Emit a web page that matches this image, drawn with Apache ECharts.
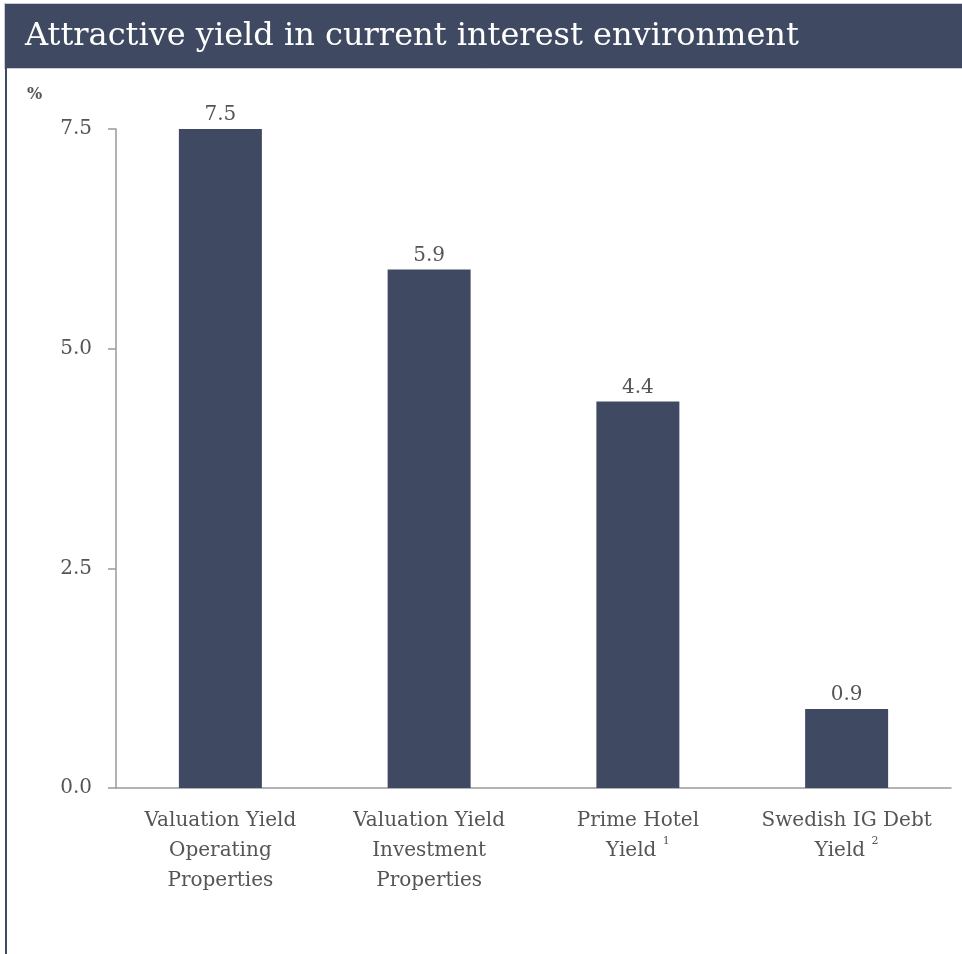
<!DOCTYPE html>
<html>
<head>
<meta charset="utf-8">
<script src="https://cdn.jsdelivr.net/npm/echarts@6/dist/echarts.min.js"></script>
<style>
  html, body { margin: 0; padding: 0; background: #fff; }
  #chart { width: 962px; height: 954px; }
</style>
</head>
<body>
<div id="chart"></div>
<script>
// Yield comparison data
const categories = [
  'Valuation Yield\nOperating\nProperties',
  'Valuation Yield\nInvestment\nProperties',
  'Prime Hotel\nYield {sup|1}',
  'Swedish IG Debt\nYield {sup|2}'
];
const yieldValues = [7.5, 5.9, 4.4, 0.9];
const yTicks = [0, 2.5, 5.0, 7.5];

const NAVY = '#3f4a62';
const TEXT = '#555555';
const AXIS = '#9a9a9a';
const FONT = 'Georgia, "DejaVu Serif", "Liberation Serif", serif';

const chart = echarts.init(document.getElementById('chart'), null, { renderer: 'canvas' });

chart.setOption({
  animation: false,
  backgroundColor: '#ffffff',
  graphic: [
    // header band
    { type: 'rect', left: 4, top: 3, shape: { width: 958, height: 65 },
      style: { fill: NAVY, stroke: '#c8cbd2', lineWidth: 1 }, z: 1 },
    // left frame line
    { type: 'rect', left: 5, top: 68, shape: { width: 2, height: 886 },
      style: { fill: NAVY }, z: 1 },
    // header text
    { type: 'text', left: 25, top: 21,
      style: { text: 'Attractive yield in current interest environment',
               fill: '#ffffff', font: '32px ' + FONT }, z: 2 },
    // unit label
    { type: 'text', left: 27, top: 87,
      style: { text: '%', fill: TEXT, font: 'bold 16px ' + FONT }, z: 2 }
  ],
  grid: { left: 116, right: 11, top: 129, bottom: 166, containLabel: false },
  xAxis: {
    type: 'category',
    data: categories,
    axisLine: { show: true, lineStyle: { color: AXIS, width: 1.5 } },
    axisTick: { show: false },
    axisLabel: {
      color: TEXT, fontFamily: FONT, fontSize: 20, lineHeight: 30,
      margin: 18, interval: 0,
      rich: { sup: { fontSize: 11, verticalAlign: 'top', lineHeight: 20, color: TEXT, fontFamily: FONT } }
    }
  },
  yAxis: {
    type: 'value',
    min: 0, max: 7.5, interval: 2.5,
    axisLine: { show: true, lineStyle: { color: AXIS, width: 1.5 } },
    axisTick: { show: true, length: 8, lineStyle: { color: AXIS, width: 1.5 } },
    splitLine: { show: false },
    axisLabel: {
      color: TEXT, fontFamily: FONT, fontSize: 20, margin: 24,
      formatter: v => (yTicks.includes(v) ? v.toFixed(1) : '')
    }
  },
  series: [{
    type: 'bar',
    data: yieldValues,
    barWidth: 83,
    itemStyle: { color: NAVY },
    label: {
      show: true, position: 'top', distance: 4,
      color: TEXT, fontFamily: FONT, fontSize: 20,
      formatter: p => p.value.toFixed(1)
    }
  }]
});
</script>
</body>
</html>
